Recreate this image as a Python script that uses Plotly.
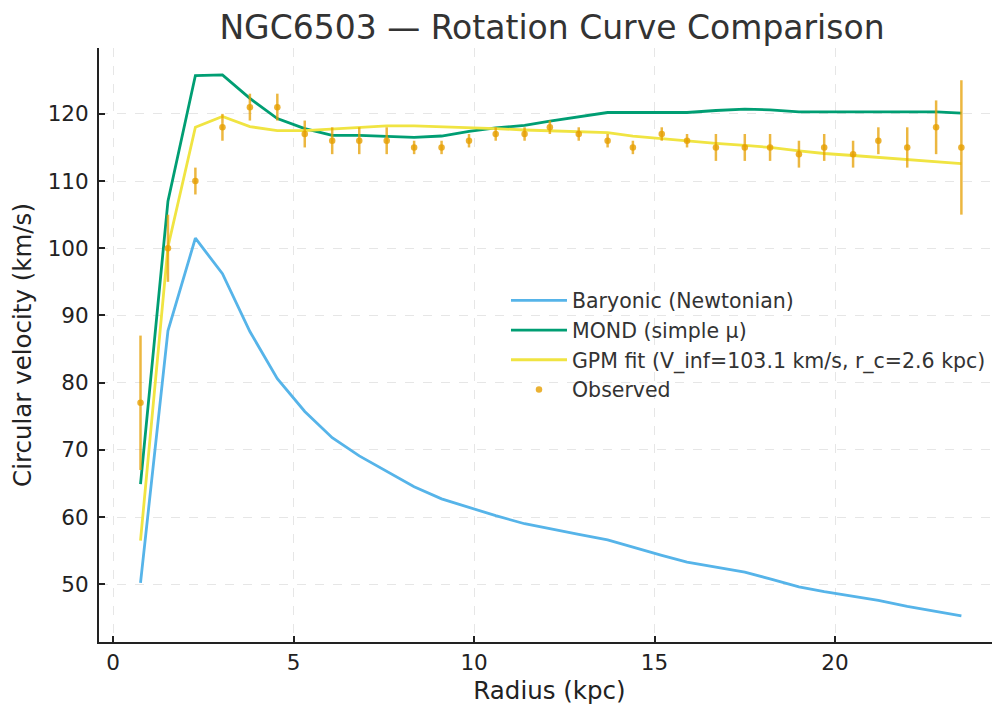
import plotly.graph_objects as go

# NGC6503 rotation curve
radius = [0.76, 1.52, 2.28, 3.03, 3.79, 4.55, 5.31, 6.07, 6.82, 7.58,
          8.34, 9.10, 9.86, 10.6, 11.4, 12.1, 12.9, 13.7, 14.4, 15.2,
          15.9, 16.7, 17.5, 18.2, 19.0, 19.7, 20.5, 21.2, 22.0, 22.8, 23.5]

v_obs = [77, 100, 110, 118, 121, 121, 117, 116, 116, 116,
         115, 115, 116, 117, 117, 118, 117, 116, 115, 117,
         116, 115, 115, 115, 114, 115, 114, 116, 115, 118, 115]
v_err = [10, 5, 2, 2, 2, 2, 2, 2, 2, 2,
         1, 1, 1, 1, 1, 1, 1, 1, 1, 1,
         1, 2, 2, 2, 2, 2, 2, 2, 3, 4, 10]

v_bar = [50.2, 87.7, 101.5, 96.2, 87.6, 80.6, 75.7, 71.8, 69.1, 66.8,
         64.5, 62.7, 61.4, 60.2, 59.0, 58.2, 57.4, 56.6, 55.5, 54.3,
         53.3, 52.6, 51.8, 50.8, 49.6, 48.9, 48.2, 47.6, 46.7, 46.0, 45.3]

v_mond = [64.9, 107.0, 125.7, 125.8, 122.3, 119.3, 117.8, 116.8, 116.8, 116.7,
          116.5, 116.7, 117.4, 117.9, 118.3, 118.9, 119.6, 120.2, 120.2, 120.2,
          120.2, 120.5, 120.7, 120.6, 120.3, 120.3, 120.3, 120.4, 120.4, 120.3, 120.1]

v_gpm = [56.5, 100.2, 118.0, 119.6, 118.1, 117.5, 117.5, 117.7, 118.0, 118.2,
         118.2, 118.1, 118.0, 117.8, 117.6, 117.5, 117.4, 117.2, 116.7, 116.3,
         115.9, 115.6, 115.3, 115.0, 114.5, 114.1, 113.8, 113.5, 113.2, 112.9, 112.6]

fig = go.Figure()

fig.add_trace(go.Scatter(x=radius, y=v_bar, mode="lines", name="Baryonic (Newtonian)",
                         line=dict(color="#56B4E9", width=2.8)))
fig.add_trace(go.Scatter(x=radius, y=v_mond, mode="lines", name="MOND (simple μ)",
                         line=dict(color="#009E73", width=2.8)))
fig.add_trace(go.Scatter(x=radius, y=v_gpm, mode="lines",
                         name="GPM fit (V_inf=103.1 km/s, r_c=2.6 kpc)",
                         line=dict(color="#F0E442", width=2.8)))
fig.add_trace(go.Scatter(x=radius, y=v_obs, mode="markers", name="Observed",
                         marker=dict(color="rgba(230,159,0,0.8)", size=6.5),
                         error_y=dict(type="data", array=v_err, color="rgba(230,159,0,0.75)",
                                      thickness=2.5, width=0)))

axis_common = dict(
    showline=True, linecolor="#222", linewidth=2, mirror=False,
    ticks="inside", ticklen=6, tickwidth=1.5, tickcolor="#222",
    showgrid=True, gridcolor="#e6e6e6", griddash="dash", gridwidth=1,
    zeroline=False, automargin=False, tickfont=dict(size=21.5, color="#222"),
)

fig.update_xaxes(range=[-0.39, 24.57], tickvals=[0, 5, 10, 15, 20],
                 title=dict(text="Radius (kpc)", font=dict(size=24.5, color="#222"), standoff=8),
                 **axis_common)
fig.update_yaxes(range=[41.4, 129.8], tickvals=[50, 60, 70, 80, 90, 100, 110, 120],
                 ticklabelstandoff=4,
                 title=dict(text="Circular velocity (km/s)", font=dict(size=24.5, color="#222"), standoff=10),
                 **axis_common)

# the page body adds an 8px offset, margins compensate for it
fig.update_layout(
    width=1000, height=709,
    margin=dict(l=91, r=8, t=40, b=75),
    paper_bgcolor="white", plot_bgcolor="white",
    font=dict(family="DejaVu Sans", color="#333"),
    title=dict(text="NGC6503 — Rotation Curve Comparison", x=0.544, xanchor="center",
               y=0.973, yanchor="middle", font=dict(size=33, color="#333")),
    legend=dict(x=0.4517, y=0.6084, xanchor="left", yanchor="top",
                bgcolor="rgba(255,255,255,0)", font=dict(size=20.5, color="#333"),
                tracegroupgap=0, itemwidth=56),
    showlegend=True,
)

fig.write_html("out.html")
